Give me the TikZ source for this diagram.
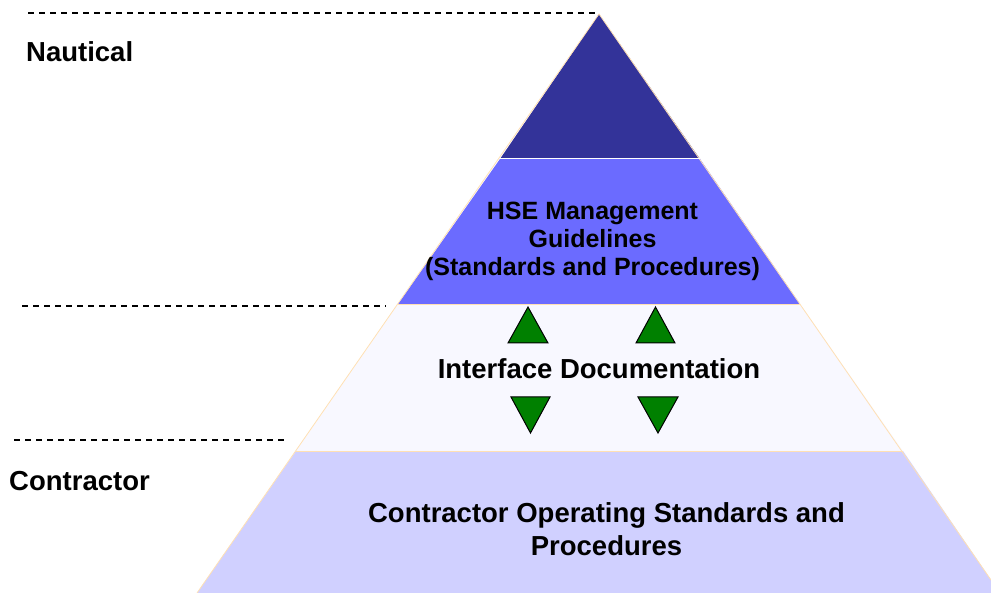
\documentclass[tikz,border=0pt]{standalone}
\usepackage{fontspec}
\setmainfont{Liberation Sans}
\definecolor{topc}{RGB}{51,51,153}
\definecolor{hsec}{RGB}{107,107,255}
\definecolor{ifc}{RGB}{248,248,255}
\definecolor{conc}{RGB}{208,208,255}
\definecolor{edgec}{RGB}{255,224,180}
\definecolor{arrg}{RGB}{0,128,0}
\begin{document}
\begin{tikzpicture}[x=1pt,y=-1pt,
  band/.style={draw=edgec,line width=0.8pt},
  guide/.style={draw=black,dashed,dash pattern=on 6pt off 5pt,line width=1.1pt},
  lbl/.style={font=\bfseries\fontsize{27.5}{33}\selectfont,inner sep=0pt,align=center},
  hselbl/.style={font=\bfseries\fontsize{25}{28}\selectfont,inner sep=0pt,align=center},
  tri/.style={draw=black,fill=arrg,line width=1pt,line join=miter}]
\useasboundingbox (0,0) rectangle (991,593);
\clip (0,0) rectangle (991,593);
% bands
\coordinate (apex) at (599,14);
\coordinate (a1l) at (500,159); \coordinate (a1r) at (700,159);
\coordinate (a2l) at (398,304); \coordinate (a2r) at (800,304);
\coordinate (a3l) at (296,451); \coordinate (a3r) at (903,451);
\coordinate (a4l) at (197,593); \coordinate (a4r) at (1000,593);
\fill[conc] (a3l) -- (a3r) -- (a4r) -- (a4l) -- cycle;
\fill[ifc] (a2l) -- (a2r) -- (a3r) -- (a3l) -- cycle;
\fill[hsec] (a1l) -- (a1r) -- (a2r) -- (a2l) -- cycle;
\fill[topc] (apex) -- (a1r) -- (a1l) -- cycle;
\draw[band] (a4l) -- (apex) -- (a4r);
\draw[band] (a3l) -- (a3r);
\draw[edgec,line width=0.6pt] (a2l) -- (a2r);
\draw[white,line width=1pt] (a1l) -- (a1r);
% dashed guides
\coordinate (g1a) at (28,13); \coordinate (g1b) at (598,13);
\coordinate (g2a) at (22,306); \coordinate (g2b) at (386,306);
\coordinate (g3a) at (14,440); \coordinate (g3b) at (286,440);
\draw[guide] (g1a) -- (g1b);
\draw[guide] (g2a) -- (g2b);
\draw[guide] (g3a) -- (g3b);
% labels
\node[lbl,anchor=west] (naut) at (26,52) {Nautical};
\node[lbl,anchor=west] (contr) at (9,481) {Contractor};
\node[hselbl] (hse) at (592.5,241) {HSE Management\\Guidelines\\(Standards and Procedures)};
\node[lbl] (iface) at (599,369) {Interface Documentation};
\node[lbl] (cosp) at (606.5,529) {Contractor Operating Standards and\\Procedures};
% green triangles
\draw[tri] (508,343) -- (548,343) -- (528,307) -- cycle;
\draw[tri] (636,343) -- (675,343) -- (655.5,307) -- cycle;
\draw[tri] (511,397) -- (550,397) -- (530.5,433) -- cycle;
\draw[tri] (638,397) -- (678,397) -- (658,433) -- cycle;
\end{tikzpicture}
\end{document}
